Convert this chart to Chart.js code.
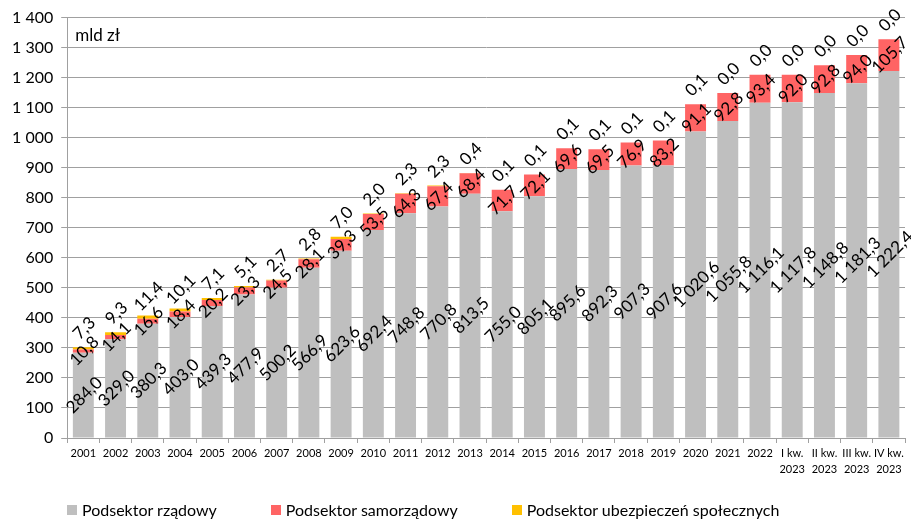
<!DOCTYPE html>
<html>
<head>
<meta charset="utf-8">
<script src="https://cdn.jsdelivr.net/npm/chart.js@4"></script>
<style>
  body { margin: 0; background: #fff; }
  #wrap { width: 911px; height: 520px; position: relative; }
  #legend {
    position: absolute; left: 67px; top: 500px;
    display: flex; font: 16px Lato, "Open Sans", sans-serif; color: #000;
  }
  #legend .item { display: flex; align-items: center; margin-right: 54px; white-space: nowrap; }
  #legend .box { width: 10px; height: 10px; margin-right: 5px; }
</style>
</head>
<body>
<div id="wrap">
  <canvas id="debtChart"></canvas>
  <div id="legend"></div>
</div>
<script>
const categories = ['2001', '2002', '2003', '2004', '2005', '2006', '2007', '2008', '2009', '2010',
  '2011', '2012', '2013', '2014', '2015', '2016', '2017', '2018', '2019', '2020', '2021', '2022',
  ['I kw.', '2023'], ['II kw.', '2023'], ['III kw.', '2023'], ['IV kw.', '2023']];

const rzadowy = [284.0, 329.0, 380.3, 403.0, 439.3, 477.9, 500.2, 566.9, 623.6, 692.4,
  748.8, 770.8, 813.5, 755.0, 805.1, 895.6, 892.3, 907.3, 907.6, 1020.6, 1055.8, 1116.1,
  1117.8, 1148.8, 1181.3, 1222.4];
const samorzadowy = [10.8, 14.1, 16.6, 18.4, 20.2, 23.3, 24.5, 28.1, 39.3, 53.5,
  64.3, 67.4, 68.4, 71.7, 72.1, 69.6, 69.5, 76.9, 83.2, 91.1, 92.8, 93.4,
  92.0, 92.8, 94.0, 105.7];
const ubezpieczen = [7.3, 9.3, 11.4, 10.1, 7.1, 5.1, 2.7, 2.8, 7.0, 2.0,
  2.3, 2.3, 0.4, 0.1, 0.1, 0.1, 0.1, 0.1, 0.1, 0.1, 0.0, 0.0,
  0.0, 0.0, 0.0, 0.0];

const yMax = 1400;
const yStep = 100;

const FONT = 'Lato, "Open Sans", sans-serif';

function spaced(n) {
  return String(n).replace(/\B(?=(\d{3})+(?!\d))/g, ' ');
}
function fmt(v) {
  let parts = v.toFixed(1).split('.');
  return spaced(parts[0]) + ',' + parts[1];
}

// value labels, rotated like in the original
const valueLabels = {
  id: 'valueLabels',
  afterDatasetsDraw(chart) {
    const ctx = chart.ctx;
    const yScale = chart.scales.y;
    ctx.save();
    ctx.font = '17px ' + FONT;
    ctx.fillStyle = '#000';
    ctx.textAlign = 'center';
    ctx.textBaseline = 'middle';
    chart.data.datasets.forEach((ds, di) => {
      const meta = chart.getDatasetMeta(di);
      meta.data.forEach((bar, i) => {
        let y;
        if (di < 2) {
          y = (bar.y + bar.base) / 2;
        } else {
          const total = rzadowy[i] + samorzadowy[i] + ubezpieczen[i];
          y = yScale.getPixelForValue(total) - 19;
        }
        ctx.save();
        ctx.translate(bar.x + 1, y);
        ctx.rotate(-Math.PI / 4);
        ctx.fillText(fmt(ds.data[i]), 0, 0);
        ctx.restore();
      });
    });
    // unit
    ctx.font = '17px ' + FONT;
    ctx.textAlign = 'left';
    ctx.fillText('mld zł', chart.chartArea.left + 8, chart.chartArea.top + 18);
    ctx.restore();
  }
};

const ctx = document.getElementById('debtChart').getContext('2d');
const chart = new Chart(ctx, {
  type: 'bar',
  data: {
    labels: categories,
    datasets: [{
      label: 'Podsektor rządowy',
      data: rzadowy,
      backgroundColor: '#BFBFBF'
    },
    {
      label: 'Podsektor samorządowy',
      data: samorzadowy,
      backgroundColor: '#FF6464'
    },
    {
      label: 'Podsektor ubezpieczeń społecznych',
      data: ubezpieczen,
      backgroundColor: '#FFC000'
    }]
  },
  options: {
    responsive: true,
    maintainAspectRatio: false,
    animation: false,
    layout: {
      padding: { top: 10, right: 6, left: 4, bottom: 40 }
    },
    datasets: {
      bar: {
        barPercentage: 0.65,
        categoryPercentage: 1,
        borderWidth: 0
      }
    },
    scales: {
      x: {
        stacked: true,
        grid: {
          offset: true,
          drawOnChartArea: false,
          tickLength: 5,
          color: '#a0a0a0'
        },
        border: { color: '#a0a0a0' },
        ticks: {
          autoSkip: false,
          maxRotation: 0,
          color: '#000',
          font: { family: FONT, size: 11, lineHeight: 1.5 },
          padding: 2
        }
      },
      y: {
        stacked: true,
        min: 0,
        max: yMax,
        grid: {
          color: '#a0a0a0',
          tickLength: 6
        },
        border: { color: '#a0a0a0' },
        ticks: {
          stepSize: yStep,
          color: '#000',
          font: { family: FONT, size: 16 },
          padding: 8,
          callback: v => spaced(v)
        }
      }
    },
    plugins: {
      legend: { display: false },
      tooltip: { enabled: false }
    }
  },
  plugins: [valueLabels]
});

// html legend from the datasets
const legendEl = document.getElementById('legend');
chart.data.datasets.forEach(ds => {
  let item = document.createElement('div');
  item.className = 'item';
  item.innerHTML = '<span class="box" style="background:' + ds.backgroundColor + '"></span>' + ds.label;
  legendEl.appendChild(item);
});
</script>
</body>
</html>
